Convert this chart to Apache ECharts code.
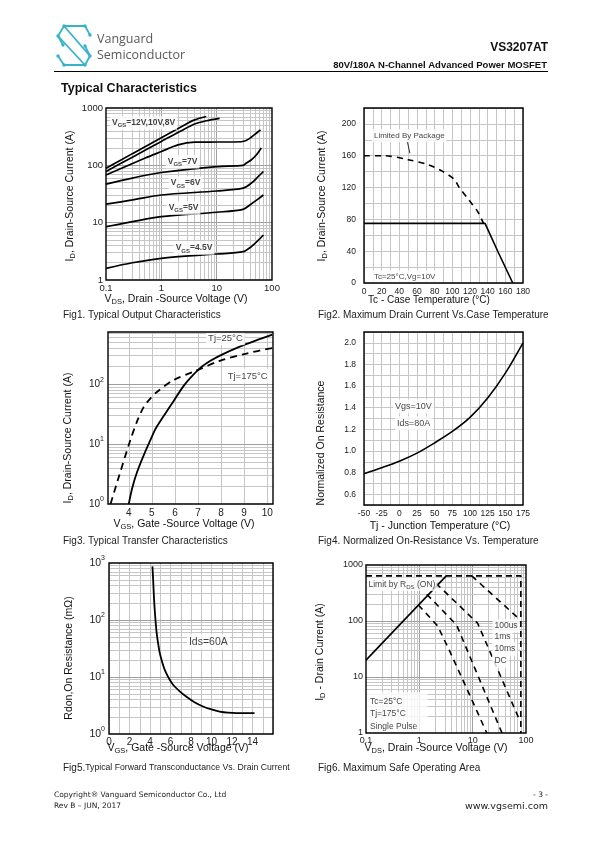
<!DOCTYPE html>
<html>
<head>
<meta charset="utf-8">
<script src="https://cdn.jsdelivr.net/npm/echarts@6.0.0/dist/echarts.min.js"></script>
<style>
html,body{margin:0;padding:0;background:#fff;}
#chart{width:595px;height:842px;}
</style>
</head>
<body>
<div id="chart"></div>
<script>
// ================= DATA =================
// Fig1 Typical Output Characteristics  [VDS (V), ID (A)]
const fig1Vgs12 = [[0.1,89],[0.3,160],[1,303],[2.3,473],[4,620],[6.5,710]];
const fig1Vgs10 = [[0.1,78],[0.3,139],[1,261],[2.3,403],[4,527],[6.5,600],[11.3,660]];
const fig1Vgs8  = [[0.1,68],[0.5,133],[1,174],[2,227],[4,253],[10,255],[28,258],[34,270],[42,309],[52,363],[62,415]];
const fig1Vgs7  = [[0.1,47],[0.3,60],[1,75],[10,95],[30,100],[34,109],[42,124],[52,151],[64,200]];
const fig1Vgs6  = [[0.1,21],[0.3,24.9],[1,30.4],[10,35.7],[30,40],[42,48.7],[55,62],[70,78]];
const fig1Vgs5  = [[0.1,8.5],[0.3,10.4],[1,12.7],[10,15.2],[30,17.1],[42,21.2],[55,25.5],[70,30.4]];
const fig1Vgs45 = [[0.1,1.6],[0.3,2.0],[1,2.39],[10,2.84],[30,3.12],[42,3.81],[55,4.8],[70,6.1]];
const fig1Notes = [[0.118,550,'V{s|GS}=12V,10V,8V'],[1.2,116,'V{s|GS}=7V'],[1.36,49,'V{s|GS}=6V'],[1.25,18,'V{s|GS}=5V'],[1.67,3.6,'V{s|GS}=4.5V']];

// Fig2 Maximum Drain Current vs Case Temperature [Tc (°C), ID (A)]
const fig2Package = [[0,160],[23,160],[50,155],[73,148.6],[88,141],[102,130.5],[107.6,120.4],[119,104],[128.7,89.7],[135.3,75]];
const fig2Current = [[0,75],[137,75],[151.8,39],[168.4,0]];
const fig2Leader  = [[49,178],[52,163]];
const fig2Notes = [[9,185,'Limited By Package'],[9,8,'Tc=25°C,Vg=10V']];

// Fig3 Typical Transfer Characteristics [VGS (V), ID (A)]
const fig3Tj25  = [[4.0,1],[4.15,1.85],[4.36,3.41],[4.65,6.56],[4.94,11.7],[5.18,18.5],[5.8,43],[6.37,92.6],[6.66,126],[7.09,185],[7.52,242],[7.95,299],[8.81,422],[9.67,562],[10.22,668]];
const fig3Tj175 = [[3.21,1],[3.57,2.85],[4.07,11.7],[4.38,25],[4.65,41.7],[4.94,58],[5.22,74],[5.94,117],[6.8,160],[7.95,245],[9.1,324],[10.22,400]];
const fig3XTicks = [4,5,6,7,8,9,10];
const fig3Notes = [[7.35,585,'Tj=25°C'],[8.2,137,'Tj=175°C']];

// Fig4 Normalized On-Resistance vs Temperature [Tj (°C), ratio]
const fig4Rn = [[-50,0.79],[-25,0.845],[0,0.905],[25,0.98],[50,1.075],[75,1.18],[100,1.31],[125,1.49],[150,1.72],[175,2.0]];
const fig4Notes = [[-9,1.41,'Vgs=10V'],[-6,1.256,'Ids=80A']];

// Fig5 Rdon vs VGS [VGS (V), Rdon (mΩ)]
const fig5Rdon = [[4.24,874],[4.32,450],[4.4,223],[4.5,120],[4.63,64],[4.8,38],[4.95,26.5],[5.2,18],[5.44,13.3],[5.8,9.8],[6.25,7.3],[6.9,5.6],[7.56,4.5],[8.3,3.65],[9.18,3.04],[10,2.7],[10.8,2.48],[11.6,2.37],[12.44,2.33],[14.2,2.33]];
const fig5Notes = [[7.6,41.5,'Ids=60A']];

// Fig6 Maximum Safe Operating Area [VDS (V), ID (A)]
const fig6Rds    = [[0.1,20],[3.2,640]];
const fig6Limit  = [[0.1,640],[80,640],[80,1]];
const fig6us100  = [[9.6,640],[72,112]];
const fig6ms1    = [[2.06,471],[12.4,91],[78,1.6]];
const fig6ms10   = [[1.38,300],[5.0,85],[35.5,1]];
const fig6DC     = [[0.96,193],[2.2,82],[3.77,28],[7.7,6.3],[18.4,1]];
const fig6Notes  = [[0.102,452,'Limit by R{s|DS} (ON)'],[23.5,82,'100us'],[23.5,52,'1ms'],[23.5,31.6,'10ms'],[23.5,19.5,'DC']];
const fig6Cond   = [[0.1,2.18,'Tc=25°C\nTj=175°C\nSingle Pulse']];

// ================= RENDER =================
const FONT = '"Liberation Sans", Arial, Helvetica, sans-serif';
const GRIDC = '#c6c6c6', GRIDD = '#a0a0a0';

function logLines(lo, hi) {
  const r = [];
  for (let d = lo; d < hi * 0.999; d *= 10) {
    for (let k = 1; k < 10; k++) {
      const v = +(d * k).toPrecision(4);
      if (v > lo * 1.0001 && v < hi * 0.9999) r.push(v);
    }
  }
  return r;
}
function isDecade(v) { const l = Math.log10(v); return Math.abs(l - Math.round(l)) < 1e-6; }

function gridLineSeries(idx, xs, ys, logX, logY) {
  const data = [];
  xs.forEach(v => data.push({xAxis: v, lineStyle: {color: (logX && isDecade(v)) ? GRIDD : GRIDC}}));
  ys.forEach(v => data.push({yAxis: v, lineStyle: {color: (logY && isDecade(v)) ? GRIDD : GRIDC}}));
  return {
    type: 'line', xAxisIndex: idx, yAxisIndex: idx, data: [], silent: true, z: 1,
    markLine: {silent: true, z: 1, symbol: ['none','none'], label: {show: false}, animation: false,
      lineStyle: {type: 'solid', width: 1, color: GRIDC}, emphasis: {disabled: true}, data: data}
  };
}
function curve(idx, data, dashed, smooth, width, mono) {
  const s = {type: 'line', xAxisIndex: idx, yAxisIndex: idx, data: data, symbol: 'none', showSymbol: false,
    smooth: smooth || false, silent: true, z: 4, clip: true,
    lineStyle: {color: '#000', width: width || 1.6, type: dashed ? dashed : 'solid'}};
  if (mono) s.smoothMonotone = 'x';
  return s;
}
function notes(idx, items, fs, bold, extra) {
  return Object.assign({type: 'scatter', xAxisIndex: idx, yAxisIndex: idx, symbolSize: 0, silent: true, z: 6,
    data: items.map(n => ({value: [n[0], n[1]], label: {formatter: n[2]}})),
    label: {show: true, position: 'right', distance: 0, fontFamily: FONT, fontSize: fs, fontWeight: bold ? 'bold' : 'normal',
      color: '#111', backgroundColor: '#fff', padding: [1, 2, 1, 2], lineHeight: fs + 3,
      rich: {s: {fontSize: fs - 2.5, fontFamily: FONT, fontWeight: bold ? 'bold' : 'normal', color: '#111', verticalAlign: 'bottom', lineHeight: fs - 1}}}
  }, extra || {});
}
const fmtNum = v => String(parseFloat(Number(v).toPrecision(6)));
const fmtPow = v => { const l = Math.log10(v); return Math.abs(l - Math.round(l)) < 1e-6 ? '10{p|' + Math.round(l) + '}' : ''; };

function grid(left, top, width, height) {
  return {left, top, width, height, show: true, borderColor: '#000', borderWidth: 1.4,
    backgroundColor: 'transparent', containLabel: false, outerBoundsMode: 'none', z: 10};
}
function axis(gi, o, lbl) {
  return Object.assign({gridIndex: gi, axisLine: {show: false}, axisTick: {show: false}, splitLine: {show: false},
    axisLabel: Object.assign({fontFamily: FONT, fontSize: 9, color: '#222', margin: 4}, lbl || {})}, o);
}
const supRich = {p: {fontSize: 7, fontFamily: FONT, color: '#222', verticalAlign: 'top', lineHeight: 9}};

const option = {
  animation: false,
  backgroundColor: '#fff',
  grid: [
    grid(106, 108, 166, 172),
    grid(364, 108, 159, 175),
    grid(108, 332, 165, 172),
    grid(364, 332, 159, 173),
    grid(109, 563, 164, 171),
    grid(366, 565, 160, 168)
  ],
  xAxis: [
    axis(0, {type: 'log', logBase: 10, min: 0.1, max: 100}, {formatter: fmtNum, fontSize: 9.5, margin: 3}),
    axis(1, {type: 'value', min: 0, max: 180, interval: 10, splitLine: {show: true, lineStyle: {color: GRIDC, width: 1}}},
      {fontSize: 8.5, formatter: v => (v % 20 === 0 ? String(v) : '')}),
    axis(2, {type: 'value', min: 3.1, max: 10.25}, {fontSize: 10, customValues: fig3XTicks, formatter: fmtNum}),
    axis(3, {type: 'value', min: -50, max: 175, interval: 12.5, splitLine: {show: true, lineStyle: {color: GRIDC, width: 1}}},
      {fontSize: 8.5, formatter: v => (Math.abs(v % 25) < 1e-6 ? String(v) : '')}),
    axis(4, {type: 'value', min: 0, max: 16, interval: 1, splitLine: {show: true, lineStyle: {color: GRIDC, width: 1}}},
      {fontSize: 10, margin: 3, formatter: v => (v % 2 === 0 && v < 16 ? String(v) : '')}),
    axis(5, {type: 'log', logBase: 10, min: 0.1, max: 100}, {formatter: fmtNum, fontSize: 9, margin: 3})
  ],
  yAxis: [
    axis(0, {type: 'log', logBase: 10, min: 1, max: 1000}, {formatter: fmtNum, fontSize: 9.5, margin: 3}),
    axis(1, {type: 'value', min: 0, max: 220, interval: 20, splitLine: {show: true, lineStyle: {color: GRIDC, width: 1}}},
      {fontSize: 8.5, margin: 8, formatter: v => (v % 40 === 0 && v <= 200 ? String(v) : '')}),
    axis(2, {type: 'log', logBase: 10, min: 1, max: 740}, {formatter: fmtPow, fontSize: 10, margin: 4, lineHeight: 16, rich: supRich, showMaxLabel: false}),
    axis(3, {type: 'value', min: 0.5, max: 2.1, interval: 0.1, splitLine: {show: true, lineStyle: {color: GRIDC, width: 1}}},
      {fontSize: 8.5, margin: 8, formatter: v => { const t = Math.round(v * 10); return (t % 2 === 0 && t <= 20) ? (t / 10).toFixed(1) : ''; }}),
    axis(4, {type: 'log', logBase: 10, min: 1, max: 1000}, {formatter: fmtPow, fontSize: 10.5, margin: 4, lineHeight: 16, rich: supRich}),
    axis(5, {type: 'log', logBase: 10, min: 1, max: 1000}, {formatter: fmtNum, fontSize: 9, margin: 3})
  ],
  series: [
    // grid lines
    gridLineSeries(0, logLines(0.1, 100), logLines(1, 1000), true, true),
    gridLineSeries(2, fig3XTicks.filter(v => v < 10.25), logLines(1, 740), false, true),
    gridLineSeries(4, [], logLines(1, 1000), false, true),
    gridLineSeries(5, logLines(0.1, 100), logLines(1, 1000), true, true),
    // Fig1
    curve(0, fig1Vgs12, null, 0.3, 1.7), curve(0, fig1Vgs10, null, 0.3, 1.7), curve(0, fig1Vgs8, null, 0.3, 1.7),
    curve(0, fig1Vgs7, null, 0.3, 1.7), curve(0, fig1Vgs6, null, 0.3, 1.7), curve(0, fig1Vgs5, null, 0.3, 1.7), curve(0, fig1Vgs45, null, 0.3, 1.7),
    notes(0, fig1Notes, 8.5, true),
    // Fig2
    curve(1, fig2Package, [6, 5], 0.3),
    curve(1, fig2Current, null, false),
    curve(1, fig2Leader, null, false, 0.8),
    notes(1, fig2Notes, 8, false),
    // Fig3
    curve(2, fig3Tj25, null, 0.3, 1.8),
    curve(2, fig3Tj175, [7, 5], 0.3, 1.8),
    notes(2, fig3Notes, 9.5, false),
    // Fig4
    curve(3, fig4Rn, null, 0.3),
    notes(3, fig4Notes, 9, false),
    // Fig5
    curve(4, fig5Rdon, null, 0.2, 1.8),
    notes(4, fig5Notes, 10.5, false),
    // Fig6
    curve(5, fig6Rds, null, false, 1.6),
    curve(5, fig6Limit, [6, 4], false, 1.6),
    curve(5, fig6us100, [6, 5], false, 1.6),
    curve(5, fig6ms1, [6, 5], false, 1.6),
    curve(5, fig6ms10, [6, 5], false, 1.6),
    curve(5, fig6DC, [6, 5], false, 1.6),
    notes(5, fig6Notes, 8.5, false),
    notes(5, fig6Cond, 8.5, false, {label: {show: true, position: 'right', distance: 0, fontFamily: FONT, fontSize: 8.5, color: '#111',
      backgroundColor: '#fff', padding: [3, 10, 3, 4], lineHeight: 12.5}})
  ],
  graphic: []
};

// ----- texts (titles, captions, header, footer)
const SUBR = {s: {fontSize: 7.5, fontFamily: FONT, fill: '#111', verticalAlign: 'bottom', lineHeight: 9}};
function T(x, y, text, o) {
  o = o || {};
  return {type: 'text', x: x, y: y, rotation: o.rot || 0, silent: true, z: 20,
    style: {text: text, fill: o.fill || '#111', fontSize: o.fs || 10.5, fontFamily: o.ff || FONT, fontWeight: o.fw || 'normal',
      align: o.align || 'left', verticalAlign: 'middle', lineHeight: o.lh || 14, rich: o.rich || SUBR}};
}
const R90 = Math.PI / 2;
const G = option.graphic;
// axis titles
G.push(T(70, 196, 'I{s|D}, Drain-Source Current (A)', {rot: R90, align: 'center'}));
G.push(T(176, 299, 'V{s|DS}, Drain -Source Voltage (V)', {align: 'center'}));
G.push(T(322, 196, 'I{s|D}, Drain-Source Current (A)', {rot: R90, align: 'center', fs: 10.5}));
G.push(T(429, 300, 'Tc - Case Temperature (°C)', {align: 'center', fs: 10}));
G.push(T(68, 438, 'I{s|D}, Drain-Source Current (A)', {rot: R90, align: 'center'}));
G.push(T(184, 524, 'V{s|GS}, Gate -Source Voltage (V)', {align: 'center'}));
G.push(T(321, 443, 'Normalized On Resistance', {rot: R90, align: 'center', fs: 10.5}));
G.push(T(440, 526, 'Tj - Junction Temperature (°C)', {align: 'center', fs: 10.5}));
G.push(T(69, 658, 'Rdon,On Resistance (mΩ)', {rot: R90, align: 'center'}));
G.push(T(178, 748, 'V{s|GS}, Gate -Source Voltage (V)', {align: 'center', fs: 10.5}));
G.push(T(320, 652, 'I{s|D} - Drain Current (A)', {rot: R90, align: 'center'}));
G.push(T(436, 748, 'V{s|DS}, Drain -Source Voltage (V)', {align: 'center', fs: 10.5}));
// captions
G.push(T(63, 315, 'Fig1. Typical Output Characteristics', {fs: 10, fill: '#222'}));
G.push(T(318, 315, 'Fig2. Maximum Drain Current Vs.Case Temperature', {fs: 10, fill: '#222'}));
G.push(T(63, 541, 'Fig3. Typical Transfer Characteristics', {fs: 10, fill: '#222'}));
G.push(T(318, 541, 'Fig4. Normalized On-Resistance Vs. Temperature', {fs: 10, fill: '#222'}));
G.push(T(63, 768, '{a|Fig5.}Typical Forward Transconductance Vs. Drain Current', {fs: 8.7, fill: '#222',
  rich: {a: {fontSize: 10, fontFamily: FONT, fill: '#222'}}}));
G.push(T(318, 768, 'Fig6. Maximum Safe Operating Area', {fs: 10, fill: '#222'}));
// header
const CYAN = '#36b3c9';
const logoLines = [
  [[90,35],[85,26],[64,26],[58,36],[63,45]],
  [[64,26],[90,56]],
  [[58,36],[85,65]],
  [[58,56],[64,65],[85,65],[90,56],[85,46]]
];
logoLines.forEach(p => G.push({type: 'polyline', silent: true, shape: {points: p},
  style: {stroke: CYAN, lineWidth: 1.8, fill: null, lineJoin: 'round'}}));
[[64,26],[85,26],[58,36],[90,56],[64,65],[85,65],[63,45],[85,46],[90,35],[58,56]].forEach(p =>
  G.push({type: 'circle', silent: true, shape: {cx: p[0], cy: p[1], r: 1.7}, style: {fill: CYAN}}));
G.push(T(97, 39, 'Vanguard', {fs: 12.5, ff: '"Open Sans", "Liberation Sans", sans-serif', fill: '#5a5a5a'}));
G.push(T(97, 55, 'Semiconductor', {fs: 12.5, ff: '"Open Sans", "Liberation Sans", sans-serif', fill: '#5a5a5a'}));
G.push(T(548, 48, 'VS3207AT', {fs: 12, fw: 'bold', align: 'right'}));
G.push(T(547, 65, '80V/180A N-Channel Advanced Power MOSFET', {fs: 9.5, fw: 'bold', align: 'right'}));
G.push({type: 'line', silent: true, shape: {x1: 54, y1: 71.5, x2: 548, y2: 71.5}, style: {stroke: '#000', lineWidth: 1}});
G.push(T(61, 89, 'Typical Characteristics', {fs: 12.5, fw: 'bold'}));
// footer
G.push(T(54, 795, 'Copyright® Vanguard Semiconductor Co., Ltd', {fs: 7.5, ff: '"DejaVu Sans", Verdana, sans-serif', fill: '#222'}));
G.push(T(54, 806, 'Rev B – JUN, 2017', {fs: 7.5, ff: '"DejaVu Sans", Verdana, sans-serif', fill: '#222'}));
G.push(T(548, 795, '- 3 -', {fs: 7.5, ff: '"DejaVu Sans", Verdana, sans-serif', fill: '#222', align: 'right'}));
G.push(T(548, 807, 'www.vgsemi.com', {fs: 9.5, ff: '"DejaVu Sans", Verdana, sans-serif', fill: '#222', align: 'right'}));

const chart = echarts.init(document.getElementById('chart'), null, {renderer: 'canvas', width: 595, height: 842});
chart.setOption(option);
</script>
</body>
</html>
